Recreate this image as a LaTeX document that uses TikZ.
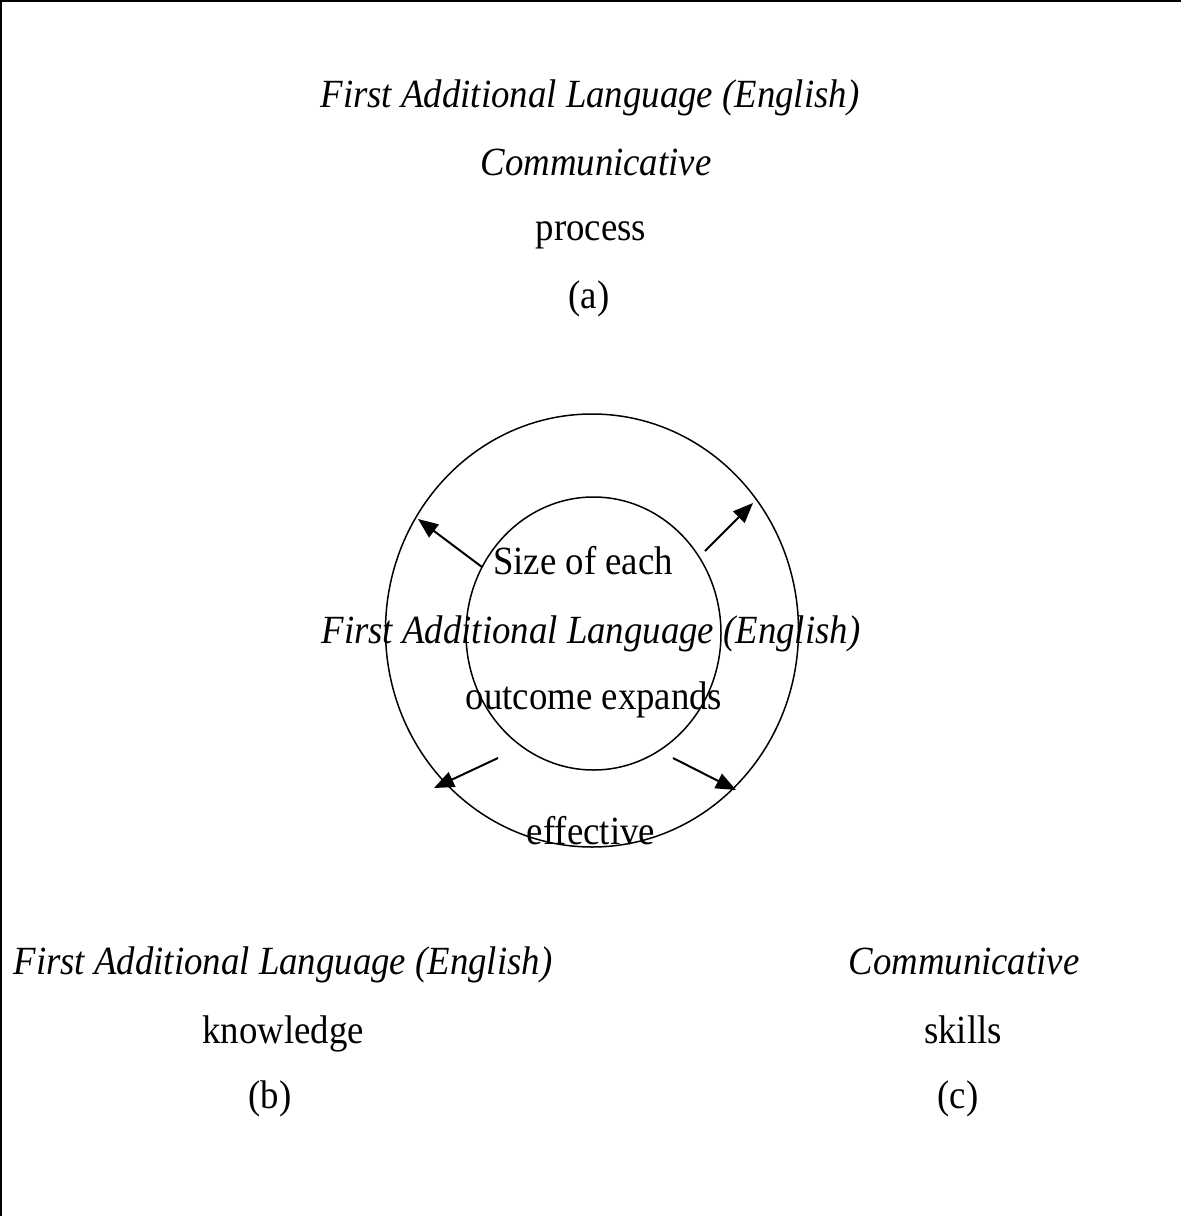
\documentclass[tikz,border=0pt]{standalone}
\usepackage{fontspec}
\setmainfont[FakeStretch=0.92]{Liberation Serif}
\usetikzlibrary{arrows.meta,shapes.geometric}
\begin{document}
\begin{tikzpicture}[x=0.5pt,y=-0.5pt,
  lbl/.style={anchor=base,inner sep=0pt,font=\fontsize{20}{22}\selectfont},
  ilbl/.style={anchor=base,inner sep=0pt,font=\fontsize{20}{22}\selectfont\itshape},
  ringshape/.style={draw,ellipse,inner sep=0pt,line width=0.75pt},
  expandarrow/.style={-{Triangle[length=10pt,width=8pt]},line width=1pt},
  frameline/.style={line width=2pt}]
\useasboundingbox (0,0) rectangle (1181,1216);
% frame (top and left only)
\coordinate (tl) at (0,0);
\coordinate (tr) at (1181,0);
\coordinate (bl) at (0,1216);
\draw[frameline] (tr) -- (tl) -- (bl);
% top block (a)
\node[ilbl] (t1) at (590,107) {First Additional Language (English)};
\node[ilbl] (t2) at (596,175) {Communicative};
\node[lbl]  (t3) at (591,240) {process};
\node[lbl]  (t4) at (589,308) {(a)};
% rings
\node[ringshape,minimum width=206.5pt,minimum height=216.5pt] (outer) at (592,630.5) {};
\node[ringshape,minimum width=127.5pt,minimum height=136.5pt] (inner) at (593.5,633.5) {};
% arrows
\coordinate (ulS) at (482,567); \coordinate (ulT) at (418,519);
\coordinate (urS) at (705,551); \coordinate (urT) at (753,503);
\coordinate (llS) at (498,758); \coordinate (llT) at (434,788);
\coordinate (lrS) at (673,758); \coordinate (lrT) at (736,790);
\draw[expandarrow] (ulS) -- (ulT);
\draw[expandarrow] (urS) -- (urT);
\draw[expandarrow] (llS) -- (llT);
\draw[expandarrow] (lrS) -- (lrT);
% centre texts
\node[lbl]  (c1) at (583,574) {Size of each};
\node[ilbl] (c2) at (591,643) {First Additional Language (English)};
\node[lbl]  (c3) at (594,709) {outcome expands};
\node[lbl]  (c4) at (591,844) {effective};
% bottom left (b)
\node[ilbl] (b1) at (283,974) {First Additional Language (English)};
\node[lbl]  (b2) at (283,1043) {knowledge};
\node[lbl]  (b3) at (270,1108) {(b)};
% bottom right (c)
\node[ilbl] (r1) at (964,974) {Communicative};
\node[lbl]  (r2) at (963,1043) {skills};
\node[lbl]  (r3) at (958,1108) {(c)};
\end{tikzpicture}
\end{document}
